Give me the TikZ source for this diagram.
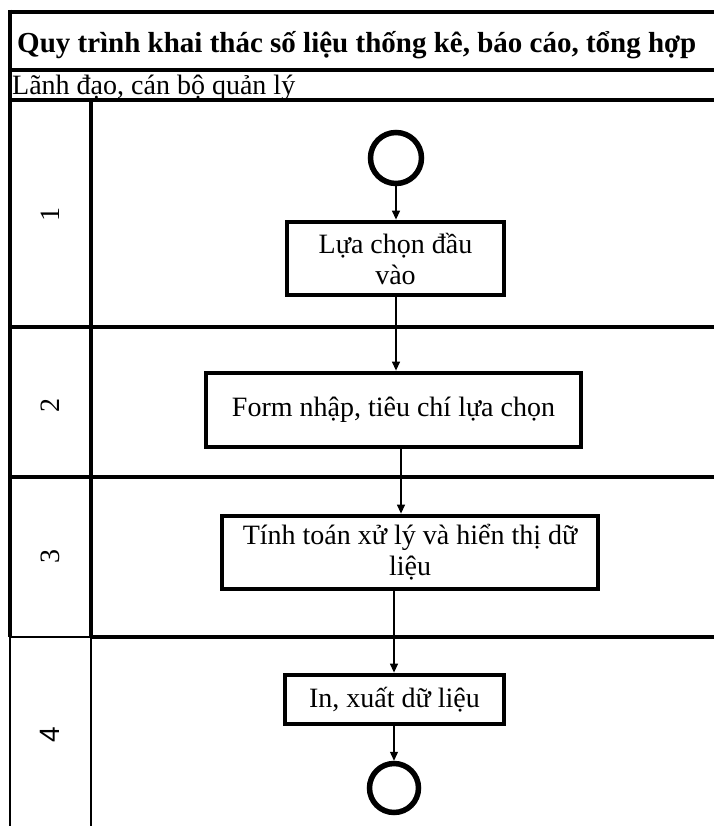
\documentclass[tikz,border=0pt]{standalone}
\usepackage{fontspec}
\setmainfont{Liberation Serif}
\newfontfamily\sansf{Liberation Sans}
\usetikzlibrary{arrows.meta}
\begin{document}
\begin{tikzpicture}[x=1pt,y=-1pt,
  thk/.style={line width=4.8pt},
  thn/.style={line width=1.5pt},
  proc/.style={draw, line width=4.8pt, rectangle, inner sep=0pt, align=center, font=\fontsize{28}{31}\selectfont},
  term/.style={draw, circle, line width=5.5pt, inner sep=0pt},
  lanenum/.style={rotate=90, font=\fontsize{28}{30}\selectfont},
  arr/.style={-{Triangle[length=9pt,width=8pt]}, line width=1.3pt}]
\useasboundingbox (0,0) rectangle (713,826);
\fill[white] (0,0) rectangle (713,826);
% frame and lanes
\draw[thk] (10,12) -- (720,12);
\draw[thk] (10,70) -- (720,70);
\draw[thk] (10,100) -- (720,100);
\draw[thk] (10,327) -- (720,327);
\draw[thk] (10,477) -- (720,477);
\draw[thk] (91,637) -- (720,637);
\draw[thn] (10,637) -- (91,637);
\draw[thk] (10,9.6) -- (10,637);
\draw[thn] (10,637) -- (10,830);
\draw[thk] (91,100) -- (91,637);
\draw[thn] (91,637) -- (91,830);
% texts
\node[anchor=west, font=\fontsize{29}{31}\selectfont\bfseries, inner sep=0pt] (title) at (17,45) {Quy trình khai thác số liệu thống kê, báo cáo, tổng hợp};
\node[anchor=west, font=\fontsize{28}{30}\selectfont, inner sep=0pt] (role) at (12,88) {Lãnh đạo, cán bộ quản lý};
\node[lanenum] (l1) at (50,215) {1};
\node[lanenum] (l2) at (50,405) {2};
\node[lanenum] (l3) at (50,556) {3};
\node[lanenum, font=\fontsize{28}{30}\sansf] (l4) at (50,735) {4};
% flow
\node[term, minimum size=51pt] (start) at (396,158) {};
\node[proc, minimum width=217pt, minimum height=73pt] (b1) at (395.5,258.5) {Lựa chọn đầu\\vào};
\node[proc, minimum width=375pt, minimum height=74pt] (b2) at (393.5,410) {Form nhập, tiêu chí lựa chọn};
\node[proc, minimum width=376pt, minimum height=73pt] (b3) at (410,552.5) {Tính toán xử lý và hiển thị dữ\\liệu};
\node[proc, minimum width=219pt, minimum height=49pt] (b4) at (394.5,699.5) {In, xuất dữ liệu};
\node[term, minimum size=49pt] (end) at (394,788) {};
\draw[arr] (start.south) -- (b1.north -| start.south);
\draw[arr] ([xshift=0.5pt]b1.south) -- ([xshift=2.5pt]b2.north);
\draw[arr] ([xshift=7.5pt]b2.south) -- ([xshift=-9pt]b3.north);
\draw[arr] ([xshift=-16pt]b3.south) -- ([xshift=-0.5pt]b4.north);
\draw[arr] (b4.south -| end.north) -- (end.north);
\end{tikzpicture}
\end{document}
